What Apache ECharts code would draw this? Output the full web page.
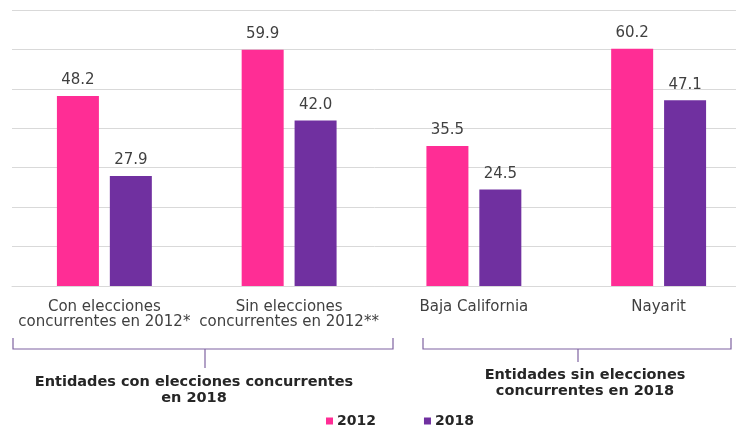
<!DOCTYPE html>
<html>
<head>
<meta charset="utf-8">
<script src="https://cdn.jsdelivr.net/npm/echarts@6/dist/echarts.min.js"></script>
<style>
html,body{margin:0;padding:0;background:#fff;}
#c{width:736px;height:429px;}
</style>
</head>
<body>
<div id="c"></div>
<script>
var categories = ['Con elecciones\nconcurrentes en 2012*', 'Sin elecciones\nconcurrentes en 2012**', 'Baja California', 'Nayarit'];
var seriesNames = ['2012', '2018'];
var values2012 = [48.2, 59.9, 35.5, 60.2];
var values2018 = [27.9, 42.0, 24.5, 47.1];
var groupLabels = ['Entidades con elecciones concurrentes\nen 2018', 'Entidades sin elecciones\nconcurrentes en 2018'];

var FONT = 'DejaVu Sans';
var TXT = '#404040';
var BR = '#7F63A1';

var chart = echarts.init(document.getElementById('c'), null, {renderer: 'canvas'});

function labelCfg() {
  return {
    show: true, position: 'top', distance: 8,
    fontFamily: FONT, fontSize: 15, color: TXT,
    formatter: function (p) { return p.value.toFixed(1); }
  };
}

chart.setOption({
  animation: false,
  backgroundColor: '#fff',
  grid: {left: 12, top: 10, height: 276, width: 739, containLabel: false, outerBoundsMode: 'none'},
  legend: {
    data: seriesNames, left: 321, top: 409,
    icon: 'rect', itemWidth: 7, itemHeight: 7, itemGap: 48,
    textStyle: {fontFamily: FONT, fontSize: 14, fontWeight: 'bold', color: '#262626', padding: [0, 0, 0, -1]}
  },
  xAxis: {
    type: 'category', data: categories,
    axisLine: {lineStyle: {color: '#d9d9d9'}},
    axisTick: {show: false},
    axisLabel: {fontFamily: FONT, fontSize: 15, lineHeight: 15, color: TXT, margin: 14, interval: 0}
  },
  yAxis: {
    type: 'value', min: 0, max: 70, interval: 10,
    axisLabel: {show: false}, axisLine: {show: false}, axisTick: {show: false},
    splitLine: {lineStyle: {color: '#d9d9d9', width: 1}}
  },
  series: [
    {name: seriesNames[0], type: 'bar', data: values2012, barWidth: 42, barGap: '26%',
     itemStyle: {color: '#FF2D95'}, label: labelCfg()},
    {name: seriesNames[1], type: 'bar', data: values2018, barWidth: 42,
     itemStyle: {color: '#7030A0'}, label: labelCfg()}
  ],
  graphic: [
    {type: 'polyline', shape: {points: [[13, 338], [13, 349], [393, 349], [393, 338]]}, style: {stroke: BR, lineWidth: 1.2, fill: null}},
    {type: 'line', shape: {x1: 205, y1: 349, x2: 205, y2: 368}, style: {stroke: BR, lineWidth: 1.2}},
    {type: 'polyline', shape: {points: [[423, 338], [423, 349], [731, 349], [731, 338]]}, style: {stroke: BR, lineWidth: 1.2, fill: null}},
    {type: 'line', shape: {x1: 578, y1: 349, x2: 578, y2: 362}, style: {stroke: BR, lineWidth: 1.2}},
    {type: 'text', x: 194, y: 390, style: {text: groupLabels[0], fontFamily: FONT, fontSize: 14.5, fontWeight: 'bold', lineHeight: 16, fill: '#262626', align: 'center', verticalAlign: 'middle'}},
    {type: 'text', x: 585, y: 383, style: {text: groupLabels[1], fontFamily: FONT, fontSize: 14.5, fontWeight: 'bold', lineHeight: 16, fill: '#262626', align: 'center', verticalAlign: 'middle'}}
  ]
});
</script>
</body>
</html>
